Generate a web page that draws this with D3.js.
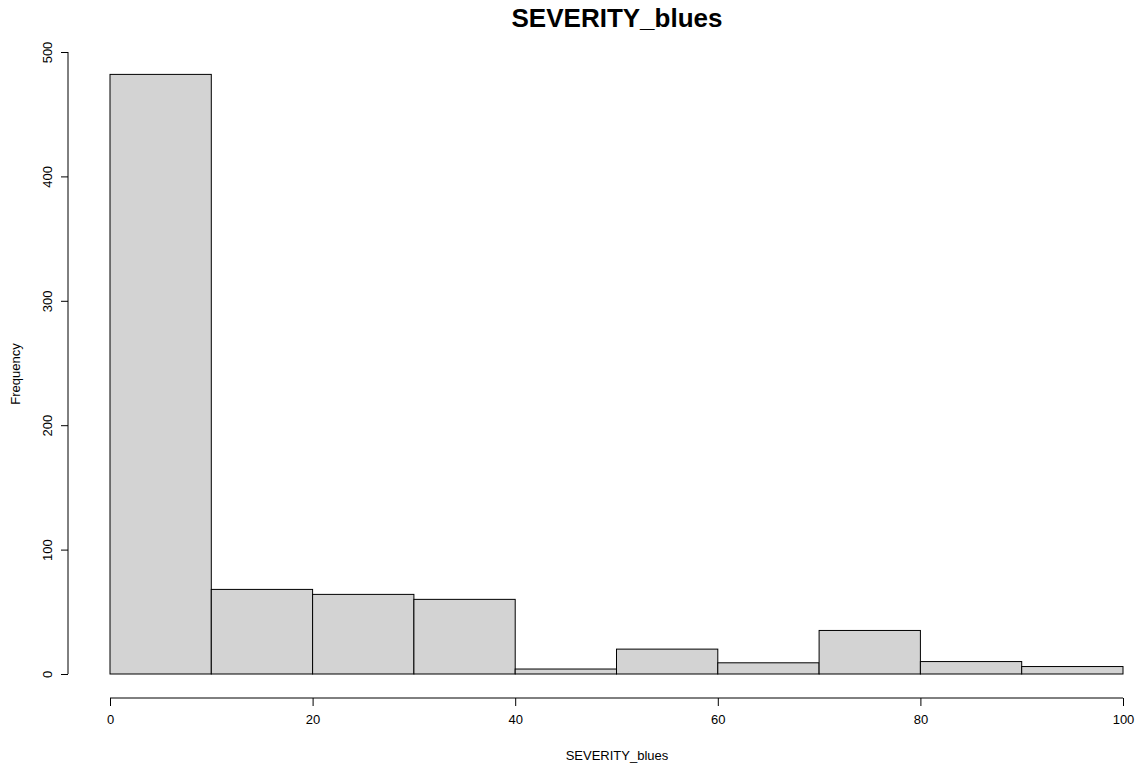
<!DOCTYPE html>
<html>
<head>
<meta charset="utf-8">
<script src="https://cdn.jsdelivr.net/npm/d3@7"></script>
<style>
  html, body { margin: 0; padding: 0; background: #fff; }
  svg { display: block; font-family: "Liberation Sans", Arial, sans-serif; }
</style>
</head>
<body>
<svg id="chart" width="1140" height="766"></svg>
<script>
// Histogram of SEVERITY_blues, bins of width 10
const binStarts = [0, 10, 20, 30, 40, 50, 60, 70, 80, 90];
const binWidth = 10;
const counts = [482, 68, 64, 60, 4, 20, 9, 35, 10, 6];
const xTicks = [0, 20, 40, 60, 80, 100];
const yTicks = [0, 100, 200, 300, 400, 500];

const svg = d3.select("#chart");

const x = d3.scaleLinear().domain([0, 100]).range([110, 1123]);
const y = d3.scaleLinear().domain([0, 500]).range([674, 52]);

// bars
svg.append("g")
  .selectAll("rect")
  .data(binStarts.map((s, i) => ({ s, c: counts[i] })))
  .join("rect")
  .attr("x", d => x(d.s))
  .attr("y", d => y(d.c))
  .attr("width", d => x(d.s + binWidth) - x(d.s))
  .attr("height", d => y(0) - y(d.c))
  .attr("fill", "#d3d3d3")
  .attr("stroke", "#000")
  .attr("stroke-width", 1);

// x axis, placed below the plot
const xAxis = svg.append("g")
  .attr("transform", "translate(0,698)")
  .call(d3.axisBottom(x).tickValues(xTicks).tickSize(8).tickPadding(9).tickFormat(d3.format("d")));
xAxis.select(".domain").attr("stroke", "#000").attr("d", `M${x(0)},0H${x(100)}`);
xAxis.selectAll(".tick line").attr("stroke", "#000");
xAxis.selectAll("text").attr("font-size", 13).attr("fill", "#000").attr("font-family", "Liberation Sans, Arial, sans-serif");

// y axis with rotated labels
const yAxis = svg.append("g")
  .attr("transform", "translate(68,0)")
  .call(d3.axisLeft(y).tickValues(yTicks).tickSize(7).tickFormat(d3.format("d")));
yAxis.select(".domain").attr("stroke", "#000").attr("d", `M0,${y(0)}V${y(500)}`);
yAxis.selectAll(".tick line").attr("stroke", "#000");
yAxis.selectAll(".tick text")
  .attr("x", null).attr("dy", null)
  .attr("text-anchor", "middle")
  .attr("transform", "translate(-16,0) rotate(-90)")
  .attr("font-size", 13).attr("fill", "#000").attr("font-family", "Liberation Sans, Arial, sans-serif");

// title and axis titles
svg.append("text")
  .attr("x", 617).attr("y", 27)
  .attr("text-anchor", "middle")
  .attr("font-size", 26).attr("font-weight", "bold")
  .text("SEVERITY_blues");

svg.append("text")
  .attr("x", 617).attr("y", 760)
  .attr("text-anchor", "middle")
  .attr("font-size", 13)
  .text("SEVERITY_blues");

svg.append("text")
  .attr("transform", "translate(20,374) rotate(-90)")
  .attr("text-anchor", "middle")
  .attr("font-size", 13)
  .text("Frequency");
</script>
</body>
</html>
